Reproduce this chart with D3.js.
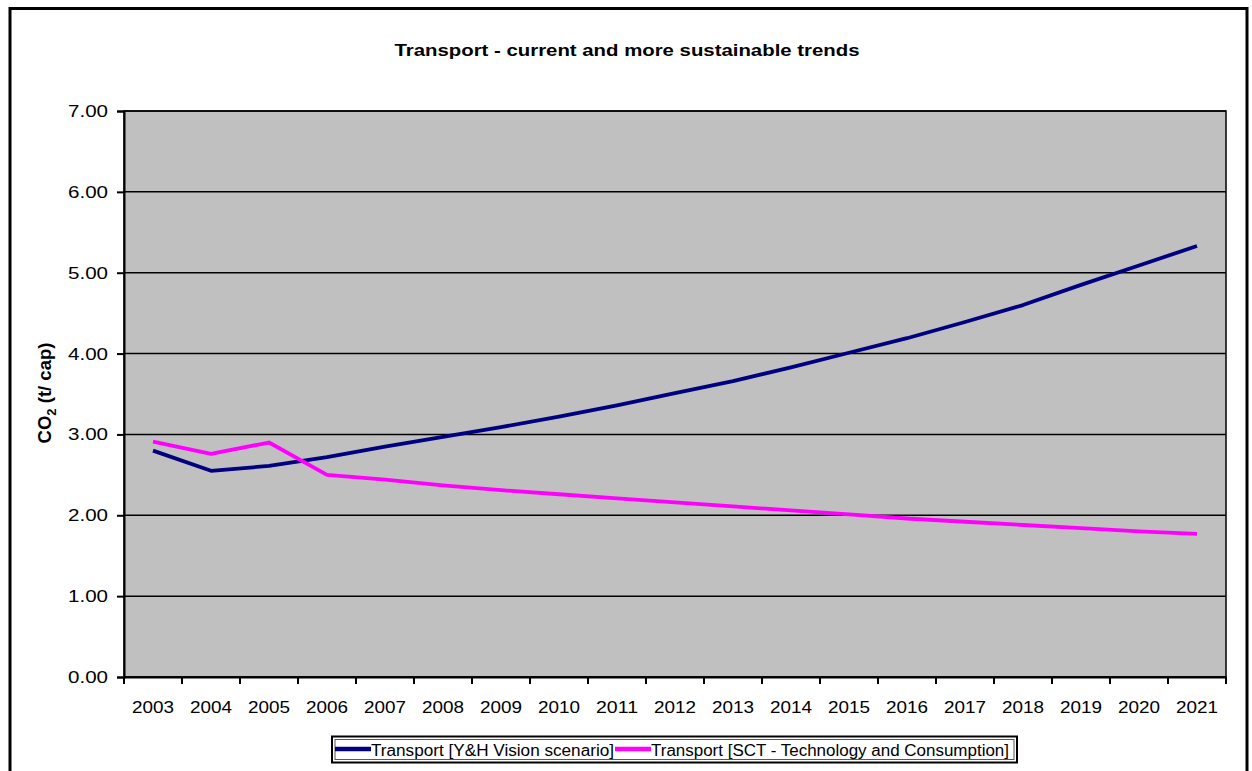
<!DOCTYPE html>
<html><head><meta charset="utf-8">
<script src="https://cdn.jsdelivr.net/npm/d3@7"></script>
<style>body{margin:0;background:#fff;}svg{display:block;font-family:"Liberation Sans",Arial,sans-serif;}</style>
</head><body>
<svg id="c" width="1252" height="771"></svg>
<script>
const years = ["2003","2004","2005","2006","2007","2008","2009","2010","2011","2012","2013","2014","2015","2016","2017","2018","2019","2020","2021"];
const visionValues = [2.80,2.55,2.61,2.72,2.85,2.97,3.09,3.22,3.36,3.51,3.66,3.83,4.01,4.19,4.39,4.60,4.85,5.09,5.33];
const sctValues = [2.91,2.76,2.90,2.50,2.44,2.37,2.31,2.26,2.21,2.16,2.11,2.06,2.01,1.96,1.92,1.88,1.84,1.80,1.77];
const yTicks = [0,1,2,3,4,5,6,7];
const seriesNames = ["Transport [Y&H Vision scenario]","Transport [SCT - Technology and Consumption]"];
const seriesColors = ["#000080","#ff00ff"];

const svg = d3.select("#c");
const m = {l:124,t:111,r:1226,b:677};
// outer border
svg.append("rect").attr("x",10).attr("y",8.5).attr("width",1237).attr("height",800)
  .attr("fill","none").attr("stroke","#000").attr("stroke-width",3);
svg.append("text").attr("x",627).attr("y",56).attr("text-anchor","middle")
  .attr("font-size",17).attr("font-weight","bold")
  .attr("textLength",465).attr("lengthAdjust","spacingAndGlyphs")
  .text("Transport - current and more sustainable trends");

const x = d3.scaleBand().domain(years).range([m.l,m.r]);
const y = d3.scaleLinear().domain([0,7]).range([m.b,m.t]);

svg.append("rect").attr("x",m.l).attr("y",m.t).attr("width",m.r-m.l).attr("height",m.b-m.t)
  .attr("fill","#c0c0c0").attr("stroke","#000").attr("stroke-width",1.5);
svg.append("g").selectAll("line").data(yTicks).join("line")
  .attr("x1",m.l).attr("x2",m.r).attr("y1",d=>y(d)).attr("y2",d=>y(d))
  .attr("stroke","#000").attr("stroke-width",1.5);

const ya = svg.append("g").attr("transform",`translate(${m.l},0)`)
  .call(d3.axisLeft(y).tickValues(yTicks).tickFormat(d3.format(".2f")).tickSize(7).tickPadding(9));
ya.select(".domain").attr("stroke-width",2);
ya.selectAll(".tick line").attr("stroke-width",2);
ya.selectAll("text").attr("font-size",17).attr("fill","#000").attr("font-family","Liberation Sans, Arial")
  .attr("textLength",40).attr("lengthAdjust","spacingAndGlyphs");

const xa = svg.append("g").attr("transform",`translate(0,${m.b})`)
  .call(d3.axisBottom(x).tickSize(0).tickPadding(24));
xa.select(".domain").attr("stroke-width",2);
xa.selectAll("text").attr("font-size",17).attr("fill","#000").attr("font-family","Liberation Sans, Arial")
  .attr("textLength",42).attr("lengthAdjust","spacingAndGlyphs");
// ticks at band boundaries
svg.append("g").selectAll("line").data(years.concat(["_end"])).join("line")
  .attr("x1",(d,i)=> i<years.length ? x(d) : x(years[years.length-1])+x.bandwidth())
  .attr("x2",(d,i)=> i<years.length ? x(d) : x(years[years.length-1])+x.bandwidth())
  .attr("y1",m.b).attr("y2",m.b+7).attr("stroke","#000").attr("stroke-width",2);

// y label
const yl = svg.append("text").attr("transform","translate(51,393) rotate(-90)")
  .attr("text-anchor","middle").attr("font-size",18.5).attr("font-weight","bold");
yl.append("tspan").text("CO");
yl.append("tspan").attr("font-size",13).attr("dy",5).text("2");
yl.append("tspan").attr("dy",-5).text(" (t/ cap)");

const line = d3.line().x((d,i)=>x(years[i])+x.bandwidth()/2).y(d=>y(d));
[visionValues,sctValues].forEach((vals,k)=>{
  svg.append("path").datum(vals).attr("d",line).attr("fill","none")
    .attr("stroke",seriesColors[k]).attr("stroke-width",3.8).attr("stroke-linejoin","round");
});

// legend
const lg = svg.append("g");
lg.append("rect").attr("x",332).attr("y",736.5).attr("width",685).attr("height",26)
  .attr("fill","#fff").attr("stroke","#000").attr("stroke-width",2);
lg.append("rect").attr("x",335).attr("y",739.5).attr("width",679).attr("height",20)
  .attr("fill","none").attr("stroke","#555").attr("stroke-width",1);
const lx = [335,615];
const tl = [243,358];
seriesNames.forEach((n,k)=>{
  lg.append("line").attr("x1",lx[k]).attr("x2",lx[k]+36).attr("y1",749).attr("y2",749)
    .attr("stroke",seriesColors[k]).attr("stroke-width",4.5);
  lg.append("text").attr("x",lx[k]+36).attr("y",756).attr("font-size",16)
    .attr("textLength",tl[k]).attr("lengthAdjust","spacingAndGlyphs").text(n);
});
</script>
</body></html>
